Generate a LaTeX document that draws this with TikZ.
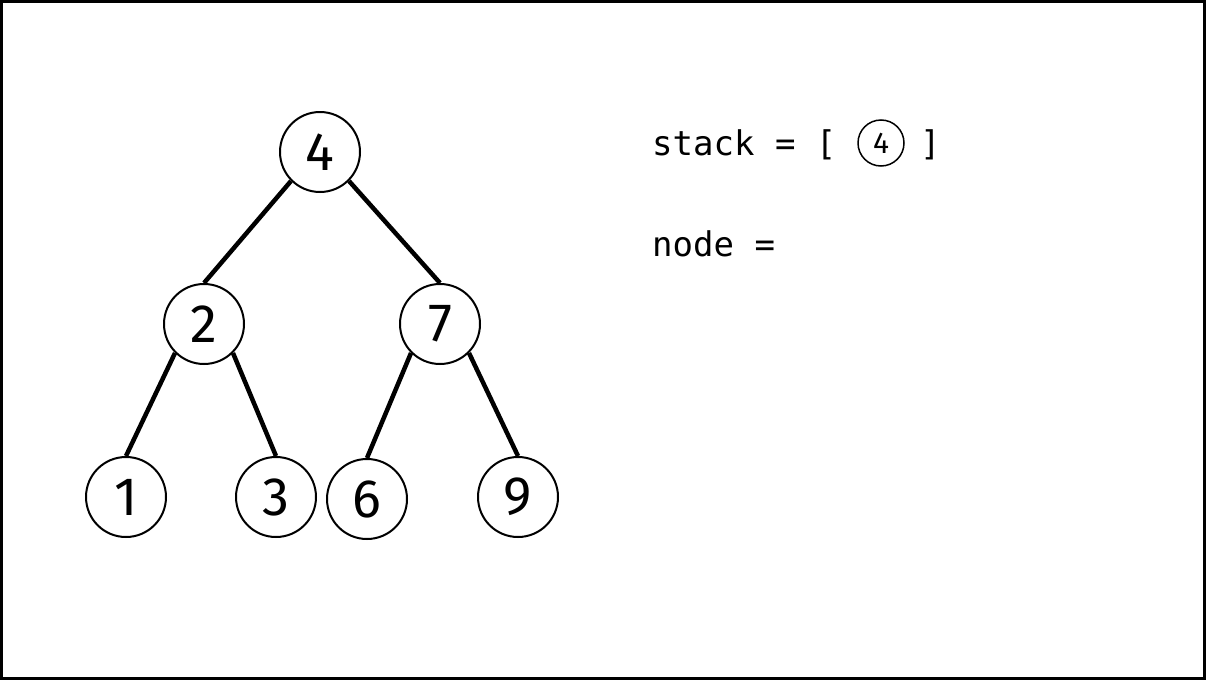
\documentclass[tikz,border=0pt]{standalone}
\usepackage{fontspec}
\setmainfont{Fira Sans}
\setmonofont{DejaVu Sans Mono}
\begin{document}
\begin{tikzpicture}[x=1pt,y=-1pt,
  tnode/.style={circle,draw,line width=2pt,minimum size=80pt,inner sep=0pt,font=\fontsize{54}{54}\selectfont},
  snode/.style={circle,draw,line width=1.5pt,minimum size=46pt,inner sep=0pt,font=\fontsize{30}{30}\selectfont},
  edge/.style={line width=4.5pt},
  lbl/.style={anchor=base west,inner sep=0pt,font=\ttfamily\fontsize{34}{34}\selectfont}]
\useasboundingbox (0,0) rectangle (1206,680);
\draw[line width=3pt] (1.5,1.5) rectangle (1204.5,678.5);
\node[tnode] (n4) at (320,152) {4};
\node[tnode] (n2) at (204,324) {2};
\node[tnode] (n7) at (440,324) {7};
\node[tnode] (n1) at (126,497) {1};
\node[tnode] (n3) at (276,497) {3};
\node[tnode] (n6) at (367,499) {6};
\node[tnode] (n9) at (518,497) {9};
\draw[edge] (n4.south west) -- (n2.north);
\draw[edge] (n4.south east) -- (n7.north);
\draw[edge] (n2.south west) -- (n1.north);
\draw[edge] (n2.south east) -- (n3.north);
\draw[edge] (n7.south west) -- (n6.north);
\draw[edge] (n7.south east) -- (n9.north);
\node[lbl] (st) at (652,155) {stack = [};
\node[snode] (s4) at (881,143) {4};
\node[lbl] (br) at (920,155) {]};
\node[lbl] (nd) at (652,256) {node =};
\end{tikzpicture}
\end{document}
